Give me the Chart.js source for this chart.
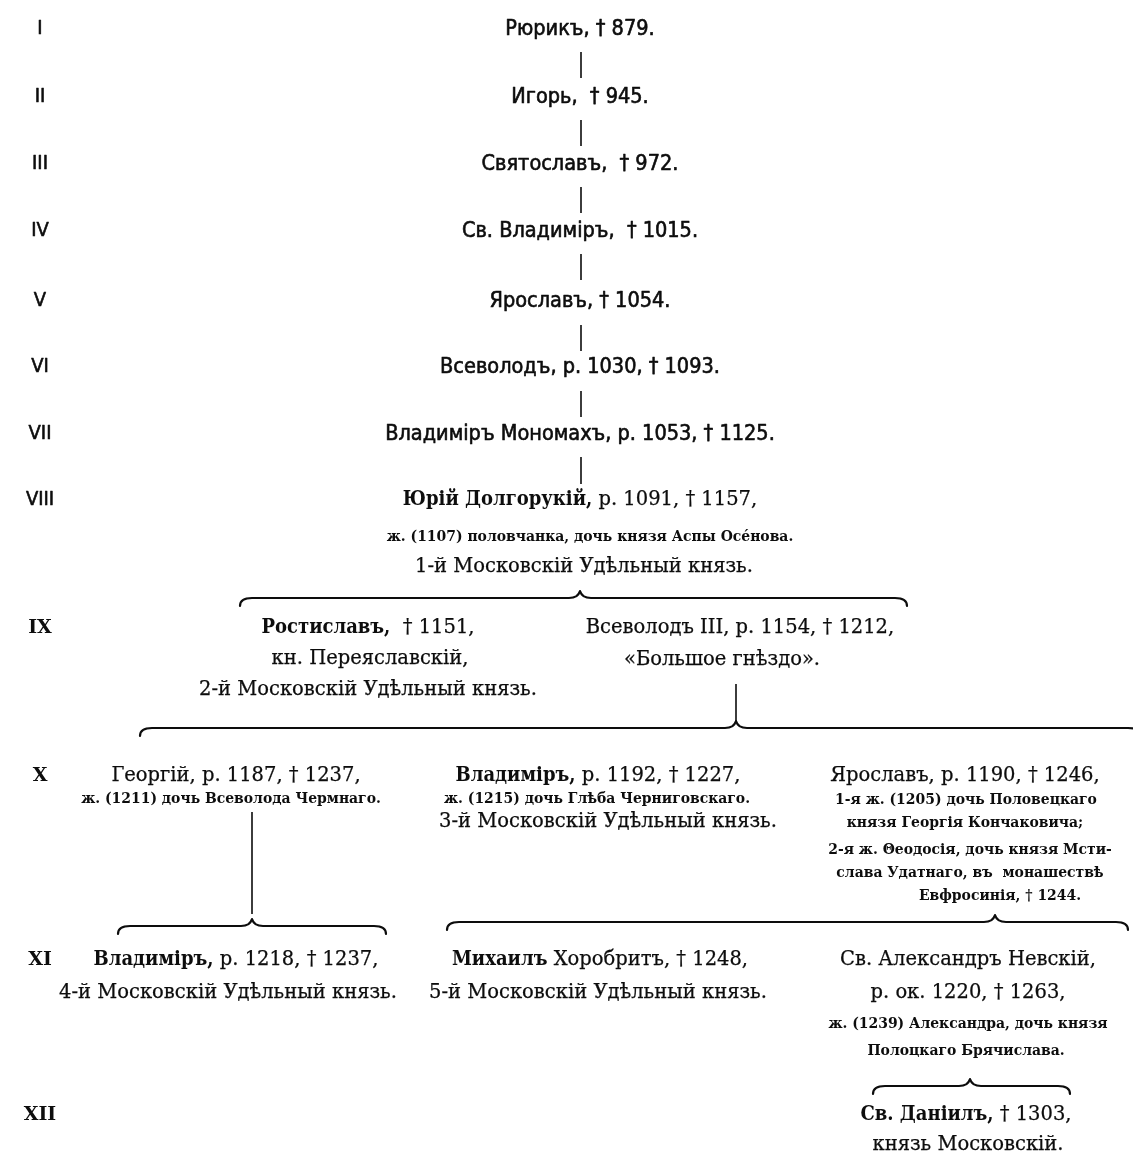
<!DOCTYPE html>
<html><head><meta charset="utf-8">
<script src="https://cdn.jsdelivr.net/npm/chart.js@4/dist/chart.umd.min.js"></script>
<style>html,body{margin:0;padding:0;background:#fff}#wrap{width:1133px;height:1157px;position:relative}</style>
</head><body><div id="wrap"><canvas id="c" width="1133" height="1157"></canvas></div>
<script>
// Generation labels (tick labels) and their row positions
const generations = ['I','II','III','IV','V','VI','VII','VIII','IX','X','XI','XII'];
const generationRows = [29,97,164,231,301,367,434,500,628,776,960,1115];
const generationCol = 40;

// Text lines of the tree: [centerX, rowY, segments [style, text]]
const textLines = [
  [580, 29,  [['o','Рюрикъ, † 879.']]],
  [580, 97,  [['o','Игорь,  † 945.']]],
  [580, 164, [['o','Святославъ,  † 972.']]],
  [580, 231, [['o','Св. Владиміръ,  † 1015.']]],
  [580, 301, [['o','Ярославъ, † 1054.']]],
  [580, 367, [['o','Всеволодъ, р. 1030, † 1093.']]],
  [580, 434, [['o','Владиміръ Мономахъ, р. 1053, † 1125.']]],
  [580, 500, [['b','Юрій Долгорукій,'],['r',' р. 1091, † 1157,']]],
  [590, 537, [['s','ж. (1107) половчанка, дочь князя Аспы Осéнова.']]],
  [584, 567, [['r','1-й Московскій Удѣльный князь.']]],
  [368, 628, [['b','Ростиславъ,'],['r','  † 1151,']]],
  [370, 659, [['r','кн. Переяславскій,']]],
  [368, 690, [['r','2-й Московскій Удѣльный князь.']]],
  [740, 628, [['r','Всеволодъ III, р. 1154, † 1212,']]],
  [722, 660, [['r','«Большое гнѣздо».']]],
  [236, 776, [['r','Георгій, р. 1187, † 1237,']]],
  [231, 799, [['s','ж. (1211) дочь Всеволода Чермнаго.']]],
  [598, 776, [['b','Владиміръ,'],['r',' р. 1192, † 1227,']]],
  [597, 799, [['s','ж. (1215) дочь Глѣба Черниговскаго.']]],
  [608, 822, [['r','3-й Московскій Удѣльный князь.']]],
  [965, 776, [['r','Ярославъ, р. 1190, † 1246,']]],
  [966, 800, [['s','1-я ж. (1205) дочь Половецкаго']]],
  [965, 823, [['s','князя Георгія Кончаковича;']]],
  [970, 850, [['s','2-я ж. Θеодосія, дочь князя Мсти-']]],
  [970, 873, [['s','слава Удатнаго, въ  монашествѣ']]],
  [1000, 896,[['s','Евфросинія, † 1244.']]],
  [236, 960, [['b','Владиміръ,'],['r',' р. 1218, † 1237,']]],
  [228, 993, [['r','4-й Московскій Удѣльный князь.']]],
  [600, 960, [['b','Михаилъ'],['r',' Хоробритъ, † 1248,']]],
  [598, 993, [['r','5-й Московскій Удѣльный князь.']]],
  [968, 960, [['r','Св. Александръ Невскій,']]],
  [968, 993, [['r','р. ок. 1220, † 1263,']]],
  [968, 1024,[['s','ж. (1239) Александра, дочь князя']]],
  [966, 1051,[['s','Полоцкаго Брячислава.']]],
  [966, 1115,[['b','Св. Даніилъ,'],['r',' † 1303,']]],
  [968, 1145,[['r','князь Московскій.']]]
];

// Vertical descent connectors: [x, yFrom, yTo]
const connectors = [
  [581, 52, 78], [581, 120, 146], [581, 187, 213], [581, 254, 280],
  [581, 325, 351], [581, 391, 417], [581, 457, 484],
  [736, 684, 723], [252, 812, 914]
];

// Braces grouping children: [xLeft, xRight, xTip, y]
const braces = [
  [240, 907, 580, 598],
  [140, 1140, 736, 728],
  [118, 386, 252, 926],
  [447, 1128, 995, 922],
  [873, 1070, 970, 1086]
];

const FONTS = {
  o: '21.5px "DejaVu Sans Condensed", "DejaVu Sans", sans-serif',
  r: '19.5px "DejaVu Serif", serif',
  b: 'bold 20px "DejaVu Serif Condensed", "DejaVu Serif", serif',
  s: 'bold 15.5px "DejaVu Serif Condensed", "DejaVu Serif", serif',
  gl: '20px "DejaVu Sans Condensed", "DejaVu Sans", sans-serif',
  gh: 'bold 19px "DejaVu Serif", serif'
};
const EMBOLDEN = { o: 0.6, r: 0.25, gl: 0.6 };
const INK = '#0d0d0d';

const connectorDatasets = connectors.map(c => ({
  data: [{x: c[0], y: c[1]}, {x: c[0], y: c[2]}],
  showLine: true, borderColor: INK, borderWidth: 1.6, pointRadius: 0, fill: false
}));

function put(ctx, st, t, x, y) {
  ctx.font = FONTS[st];
  ctx.fillText(t, x, y);
  if (EMBOLDEN[st]) { ctx.lineWidth = EMBOLDEN[st]; ctx.strokeText(t, x, y); }
}

const treePlugin = {
  id: 'tree',
  afterDatasetsDraw(chart) {
    const ctx = chart.ctx, xs = chart.scales.x, ys = chart.scales.y;
    ctx.save();
    ctx.fillStyle = INK; ctx.strokeStyle = INK;
    ctx.textBaseline = 'middle';
    ctx.lineJoin = 'round';
    generations.forEach((g, i) => {
      ctx.textAlign = 'center';
      put(ctx, i < 8 ? 'gl' : 'gh', g, xs.getPixelForValue(generationCol), ys.getPixelForValue(generationRows[i]));
    });
    ctx.textAlign = 'left';
    textLines.forEach(([cx, cy, segs]) => {
      let w = 0;
      segs.forEach(([st, t]) => { ctx.font = FONTS[st]; w += ctx.measureText(t).width; });
      let x = xs.getPixelForValue(cx) - w / 2;
      const y = ys.getPixelForValue(cy);
      segs.forEach(([st, t]) => { put(ctx, st, t, x, y); ctx.font = FONTS[st]; x += ctx.measureText(t).width; });
    });
    ctx.lineWidth = 2.2;
    ctx.lineCap = 'round';
    braces.forEach(([a, b, t, yy]) => {
      const x1 = xs.getPixelForValue(a), x2 = xs.getPixelForValue(b), tp = xs.getPixelForValue(t), y = ys.getPixelForValue(yy);
      ctx.beginPath();
      ctx.moveTo(x1, y + 8);
      ctx.quadraticCurveTo(x1, y, x1 + 12, y);
      ctx.lineTo(tp - 11, y);
      ctx.quadraticCurveTo(tp - 2, y, tp, y - 7);
      ctx.quadraticCurveTo(tp + 2, y, tp + 11, y);
      ctx.lineTo(x2 - 12, y);
      ctx.quadraticCurveTo(x2, y, x2, y + 8);
      ctx.stroke();
    });
    ctx.restore();
  }
};

new Chart(document.getElementById('c'), {
  type: 'scatter',
  data: { datasets: connectorDatasets },
  options: {
    responsive: false, animation: false,
    layout: { padding: 0 },
    plugins: { legend: { display: false }, tooltip: { enabled: false } },
    scales: {
      x: { type: 'linear', min: 0, max: 1133, display: false },
      y: { type: 'linear', min: 0, max: 1157, reverse: true, display: false }
    }
  },
  plugins: [treePlugin]
});
</script></body></html>
